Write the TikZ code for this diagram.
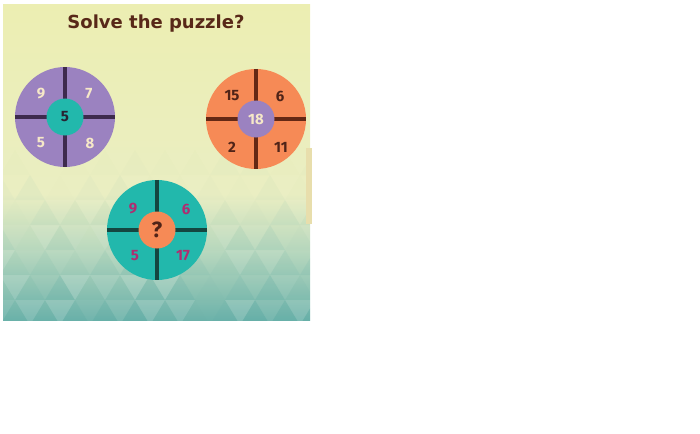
\documentclass[tikz,border=0pt]{standalone}
\usepackage{fontspec}
\setmainfont{Fira Sans}
\newfontfamily\titlefont{DejaVu Sans}
\definecolor{bgtop}{RGB}{236,238,178}
\definecolor{bgmid}{RGB}{234,238,194}
\definecolor{bglow}{RGB}{184,216,190}
\definecolor{bgbot}{RGB}{108,178,170}
\definecolor{purp}{RGB}{155,130,192}
\definecolor{purpline}{RGB}{62,42,78}
\definecolor{tealc}{RGB}{34,184,172}
\definecolor{tealline}{RGB}{20,70,64}
\definecolor{orng}{RGB}{246,138,86}
\definecolor{orngline}{RGB}{100,40,20}
\definecolor{cream}{RGB}{246,232,200}
\definecolor{brownt}{RGB}{80,36,24}
\definecolor{magt}{RGB}{176,44,112}
\definecolor{darkt}{RGB}{40,36,50}
\definecolor{titlec}{RGB}{88,40,24}
\definecolor{hexd}{RGB}{70,160,160}
\definecolor{stripc}{RGB}{232,222,172}
\pgfdeclareverticalshading{bgsh}{100bp}{color(0bp)=(bgbot); color(25bp)=(bgbot); color(36bp)=(bglow); color(45bp)=(bgmid); color(75bp)=(bgtop); color(100bp)=(bgtop)}
\tikzset{
  outer/.style={circle, minimum size=100pt, inner sep=0pt},
  inner/.style={circle, minimum size=37pt, inner sep=0pt, font=\fontsize{15}{15}\selectfont\bfseries},
  num/.style={inner sep=0pt, font=\fontsize{15}{15}\selectfont\bfseries},
  spoke/.style={line width=4pt}
}
\begin{document}
\begin{tikzpicture}[x=1pt,y=-1pt]
\useasboundingbox (0,0) rectangle (700,433);
\begin{scope}
\clip (3,5) rectangle (310,320);
\shade[shading=bgsh] (3,5) rectangle (310,320);
\pgfmathsetseed{11}
\foreach \r in {0,...,6}{
  \foreach \c in {-1,...,10}{
    \pgfmathsetmacro{\yy}{150+\r*25}
    \pgfmathsetmacro{\xx}{\c*30+mod(\r,2)*15}
    \pgfmathsetmacro{\oa}{rnd*0.05*(\r+1)/2}
    \pgfmathsetmacro{\ob}{rnd*0.05*(\r+1)/2}
    \fill[hexd, opacity=\oa] (\xx,\yy+25) -- (\xx+15,\yy) -- (\xx+30,\yy+25) -- cycle;
    \fill[white, opacity=\ob] (\xx+15,\yy) -- (\xx+45,\yy) -- (\xx+30,\yy+25) -- cycle;
  }
}
\end{scope}
\fill[stripc] (306,148) rectangle (312,224);
\node[font=\titlefont\fontsize{18}{18}\selectfont\bfseries, text=titlec] (title) at (156,24) {Solve the puzzle?};
% purple circle
\node[outer, fill=purp] (p) at (65,117) {};
\draw[spoke, purpline] (p.north) -- (p.south);
\draw[spoke, purpline] (p.west) -- (p.east);
\node[inner, fill=tealc, text=darkt] (pc) at (p) {5};
\node[num, text=cream] (p1) at (41,94) {9};
\node[num, text=cream] (p2) at (89,94) {7};
\node[num, text=cream] (p3) at (41,143) {5};
\node[num, text=cream] (p4) at (90,143) {8};
% orange circle
\node[outer, fill=orng] (o) at (256,119) {};
\draw[spoke, orngline] (o.north) -- (o.south);
\draw[spoke, orngline] (o.west) -- (o.east);
\node[inner, fill=purp, text=cream] (oc) at (o) {18};
\node[num, text=brownt] (o1) at (232,96) {15};
\node[num, text=brownt] (o2) at (280,96) {6};
\node[num, text=brownt] (o3) at (232,147) {2};
\node[num, text=brownt] (o4) at (281,147) {11};
% teal circle
\node[outer, fill=tealc] (t) at (157,230) {};
\draw[spoke, tealline] (t.north) -- (t.south);
\draw[spoke, tealline] (t.west) -- (t.east);
\node[inner, fill=orng, text=brownt, font=\fontsize{22}{22}\selectfont\bfseries] (tc) at (t) {?};
\node[num, text=magt] (t1) at (133,209) {9};
\node[num, text=magt] (t2) at (186,209) {6};
\node[num, text=magt] (t3) at (135,256) {5};
\node[num, text=magt] (t4) at (183,256) {17};
\end{tikzpicture}
\end{document}
